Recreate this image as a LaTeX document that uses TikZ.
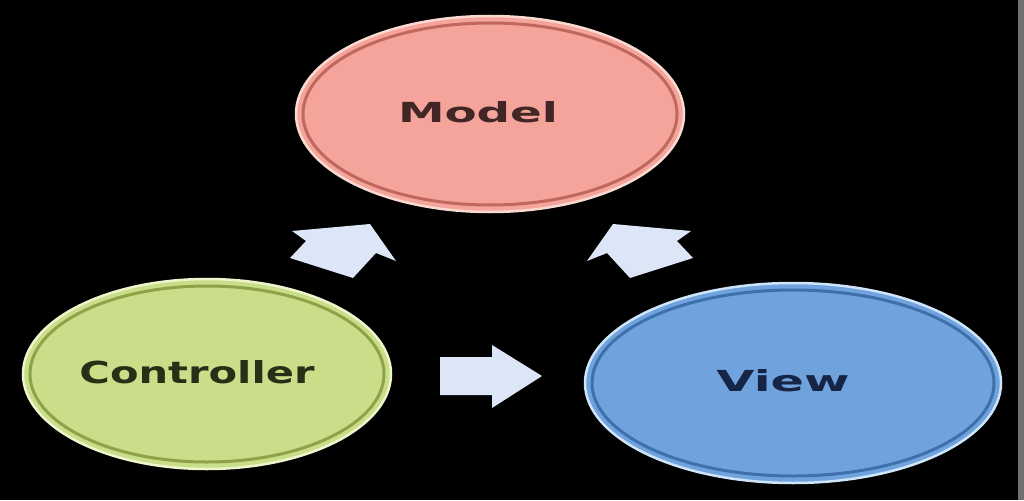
\documentclass[tikz,border=0pt]{standalone}
\usepackage{fontspec}
\usepackage{graphicx}
\setmainfont{DejaVu Sans}
\usetikzlibrary{shapes.geometric}
\definecolor{mfill}{RGB}{245,164,156}
\definecolor{mdark}{RGB}{192,104,94}
\definecolor{mlight}{RGB}{250,218,208}
\definecolor{mtext}{RGB}{66,38,38}
\definecolor{cfill}{RGB}{202,222,138}
\definecolor{cdark}{RGB}{142,162,72}
\definecolor{clight}{RGB}{238,244,204}
\definecolor{ctext}{RGB}{38,48,22}
\definecolor{vfill}{RGB}{112,162,222}
\definecolor{vdark}{RGB}{62,112,172}
\definecolor{vlight}{RGB}{206,228,248}
\definecolor{vtext}{RGB}{22,36,70}
\definecolor{arrowfill}{RGB}{220,230,246}
\definecolor{edgegray}{RGB}{112,112,112}
\tikzset{
  bubble/.style={ellipse, inner sep=0pt, line width=2.5pt},
  blockarrow/.style={fill=arrowfill, draw=none},
  bubbletext/.style={font=\bfseries},
}
\begin{document}
\begin{tikzpicture}[x=1pt,y=-1pt]
\fill[black] (0,0) rectangle (1024,500);
\useasboundingbox (0,0) rectangle (1024,500);
\fill[edgegray] (1018,0) rectangle (1024,500);

% ellipses
\node[bubble, fill=mfill, draw=mlight, minimum width=388pt, minimum height=196pt,
  label={[bubbletext,xshift=-12pt,yshift=2pt,text=mtext]center:\resizebox{160pt}{21pt}{Model}}] (model) at (490,114) {};
\draw[mdark, line width=3pt] (model.center) ellipse [x radius=187, y radius=91];

\node[bubble, fill=cfill, draw=clight, minimum width=368pt, minimum height=190pt,
  label={[bubbletext,xshift=-10pt,yshift=2pt,text=ctext]center:\resizebox{235pt}{23pt}{Controller}}] (controller) at (207,374) {};
\draw[cdark, line width=3pt] (controller.center) ellipse [x radius=177, y radius=88];

\node[bubble, fill=vfill, draw=vlight, minimum width=416pt, minimum height=200pt,
  label={[bubbletext,xshift=-10pt,yshift=2pt,text=vtext]center:\resizebox{133pt}{22pt}{View}}] (view) at (793,383) {};
\draw[vdark, line width=3pt] (view.center) ellipse [x radius=201, y radius=93];

% block arrows
\fill[blockarrow] (370,224) -- (292,231) -- (306,241) -- (290,258) -- (353,278) -- (376,253) -- (396,261) -- cycle;
\fill[blockarrow] (613,224) -- (691,231) -- (677,241) -- (693,258) -- (630,278) -- (607,253) -- (587,261) -- cycle;
\fill[blockarrow] (440,357) -- (492,357) -- (492,345) -- (542,376) -- (492,408) -- (492,395) -- (440,395) -- cycle;
\end{tikzpicture}
\end{document}
